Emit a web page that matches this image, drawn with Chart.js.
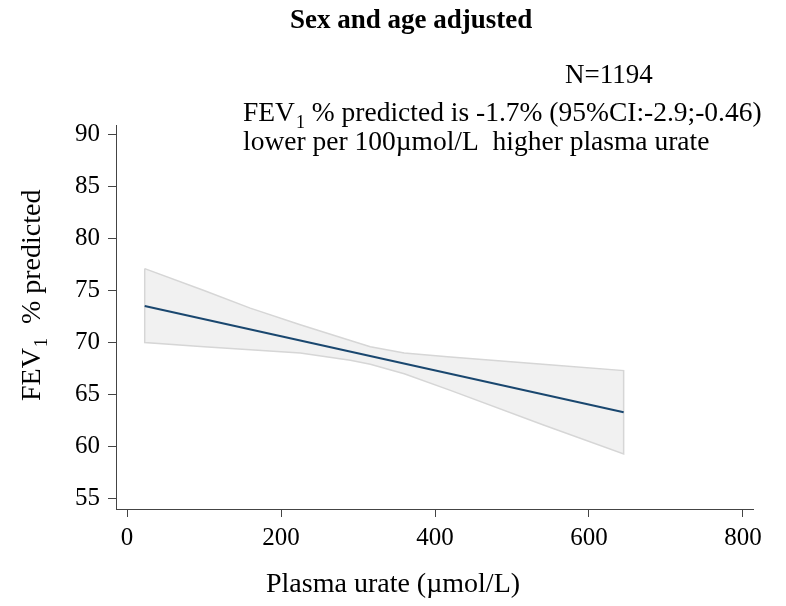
<!DOCTYPE html>
<html>
<head>
<meta charset="utf-8">
<script src="https://cdn.jsdelivr.net/npm/chart.js@4.4.1/dist/chart.umd.min.js"></script>
<style>
  html, body { margin:0; padding:0; background:#fff; }
  #wrap { width:786px; height:606px; }
</style>
</head>
<body>
<div id="wrap"><canvas id="grafico" width="786" height="606"></canvas></div>
<script>
// linear fit of FEV1 % predicted on plasma urate, with its 95% CI band
const fitX = [23, 645];
const fitY = [73.5, 63.3];

const bandX     = [23,   100,  160,  225,  290,  316,  360,  420,  540,  645];
const bandUpper = [77.1, 75.0, 73.3, 71.7, 70.2, 69.6, 69.0, 68.6, 67.9, 67.3];
const bandLower = [70.0, 69.6, 69.3, 69.0, 68.3, 67.9, 67.0, 65.4, 62.1, 59.3];

const xTicks = [0, 200, 400, 600, 800];
const yTicks = [55, 60, 65, 70, 75, 80, 85, 90];

const titulo = "Sex and age adjusted";
const nTexto = "N=1194";
const linha1 = " % predicted is -1.7% (95%CI:-2.9;-0.46)";
const linha2 = "lower per 100\u00b5mol/L  higher plasma urate";
const tituloX = "Plasma urate (\u00b5mol/L)";
const tituloY = "  % predicted";

const FONTE = '"Liberation Serif", "Times New Roman", serif';
const COR_EIXO = "#444";

function pontos(xs, ys){
  return xs.map((x, i) => ({ x: x, y: ys[i] }));
}

// outline of the band: upper edge left to right, lower edge back, closed
const contorno = pontos(bandX, bandUpper).concat(pontos(bandX, bandLower).reverse());
contorno.push(contorno[0]);

// "FEV" + subscript 1 + rest of the string
function fevTexto(ctx, x, y, resto, tam){
  ctx.font = tam + "px " + FONTE;
  ctx.fillText("FEV", x, y);
  let w = ctx.measureText("FEV").width;
  ctx.font = Math.round(tam * 0.65) + "px " + FONTE;
  ctx.fillText("1", x + w + 1, y + 7);
  w += ctx.measureText("1").width + 1;
  ctx.font = tam + "px " + FONTE;
  ctx.fillText(resto, x + w, y);
}

const textos = {
  id: "textos",
  afterDraw(chart){
    const ctx = chart.ctx;
    ctx.save();
    ctx.fillStyle = "#000";
    ctx.textAlign = "left";
    ctx.textBaseline = "alphabetic";

    ctx.font = "bold 27px " + FONTE;
    ctx.fillText(titulo, 290, 28);

    ctx.font = "27px " + FONTE;
    ctx.fillText(nTexto, 565, 83);

    fevTexto(ctx, 243, 121, linha1, 27.5);
    ctx.font = "27.5px " + FONTE;
    ctx.fillText(linha2, 243, 150);

    ctx.font = "28px " + FONTE;
    ctx.fillText(tituloX, 266, 592);

    ctx.translate(40, 401);
    ctx.rotate(-Math.PI / 2);
    fevTexto(ctx, 0, 0, tituloY, 28);
    ctx.restore();
  }
};

const eixo = {
  border: { display: true, color: COR_EIXO, width: 1 },
  grid: { display: true, drawOnChartArea: false, drawTicks: true, tickLength: 8, tickColor: COR_EIXO, tickWidth: 1 },
  ticks: { color: "#000", font: { family: FONTE, size: 25 }, maxRotation: 0, autoSkip: false }
};

new Chart(document.getElementById("grafico"), {
  type: "scatter",
  data: {
    datasets: [
      {
        data: pontos(fitX, fitY),
        showLine: true, borderColor: "#1a476f", borderWidth: 2,
        pointRadius: 0, fill: false, order: 0
      },
      {
        data: contorno,
        showLine: true, borderColor: "#d6d6d6", borderWidth: 1.5,
        pointRadius: 0, fill: false, order: 1
      },
      {
        data: pontos(bandX, bandUpper),
        showLine: true, borderWidth: 0, pointRadius: 0,
        backgroundColor: "#f1f1f1", fill: "+1", order: 2
      },
      {
        data: pontos(bandX, bandLower),
        showLine: true, borderWidth: 0, pointRadius: 0, fill: false, order: 3
      }
    ]
  },
  options: {
    responsive: false,
    animation: false,
    devicePixelRatio: 1,
    layout: { padding: { top: 125, right: 33, left: 0, bottom: 0 } },
    plugins: {
      legend: { display: false },
      tooltip: { enabled: false },
      title: { display: false }
    },
    scales: {
      x: {
        ...eixo,
        min: -14.3, max: 813,
        ticks: { ...eixo.ticks, padding: 6 },
        afterBuildTicks: s => { s.ticks = xTicks.map(v => ({ value: v })); },
        afterFit: s => { s.height = 97; }
      },
      y: {
        ...eixo,
        min: 54, max: 90.9,
        ticks: { ...eixo.ticks, padding: 8 },
        afterBuildTicks: s => { s.ticks = yTicks.map(v => ({ value: v })); },
        afterFit: s => { s.width = 116; }
      }
    }
  },
  plugins: [textos]
});
</script>
</body>
</html>
